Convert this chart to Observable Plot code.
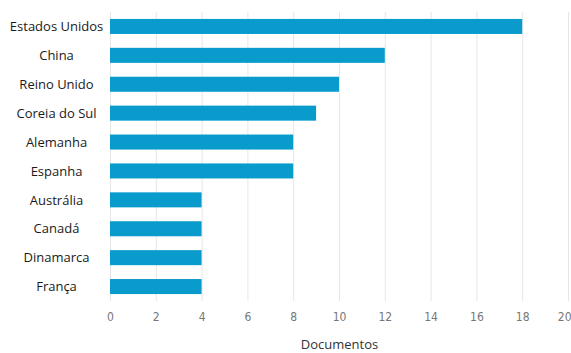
<!DOCTYPE html>
<html>
<head>
<meta charset="utf-8">
<script src="https://cdn.jsdelivr.net/npm/d3@7"></script>
<script src="https://cdn.jsdelivr.net/npm/@observablehq/plot@0.6"></script>
<style>
  html, body { margin: 0; padding: 0; background: #fff; }
  #chart svg { display: block; }
</style>
</head>
<body>
<div id="chart"></div>
<script>
const countries = ["Estados Unidos", "China", "Reino Unido", "Coreia do Sul", "Alemanha", "Espanha", "Austrália", "Canadá", "Dinamarca", "França"];
const documents = [18, 12, 10, 9, 8, 8, 4, 4, 4, 4];
const xTicks = [0, 2, 4, 6, 8, 10, 12, 14, 16, 18, 20];

const data = countries.map((c, i) => ({country: c, value: documents[i]}));
const tickFont = "'Liberation Sans Narrow', 'DejaVu Sans Condensed', sans-serif";

const chart = Plot.plot({
  width: 571,
  height: 353,
  marginLeft: 110,
  marginRight: 3,
  marginTop: 12,
  marginBottom: 52,
  style: {fontFamily: "Open Sans", background: "#fff"},
  x: {domain: [0, 20], ticks: xTicks},
  y: {domain: countries, paddingInner: 0.48, paddingOuter: 0.24, round: false, axis: null},
  marks: [
    Plot.gridX(xTicks, {stroke: "#e6e6e6", strokeOpacity: 1, strokeWidth: 1}),
    Plot.barX(data, {x: "value", y: "country", fill: "#0a9bcd"}),
    Plot.axisX(xTicks.slice(0, -1), {tickSize: 0, tickPadding: 11, fontSize: 12, fill: "#777", fontFamily: tickFont, label: null}),
    Plot.axisX(xTicks.slice(-1), {tickSize: 0, tickPadding: 11, fontSize: 12, fill: "#777", fontFamily: tickFont, textAnchor: "end", dx: 3, label: null}),
    Plot.text(countries, {x: 0, y: d => d, dx: -54, textAnchor: "middle", fontSize: 13, fill: "#1a1a1a", fontFamily: "Open Sans"}),
    Plot.text(["Documentos"], {frameAnchor: "bottom", dy: 47, fontSize: 13, fill: "#333", fontFamily: "Open Sans"})
  ]
});
document.getElementById("chart").appendChild(chart);
</script>
</body>
</html>
